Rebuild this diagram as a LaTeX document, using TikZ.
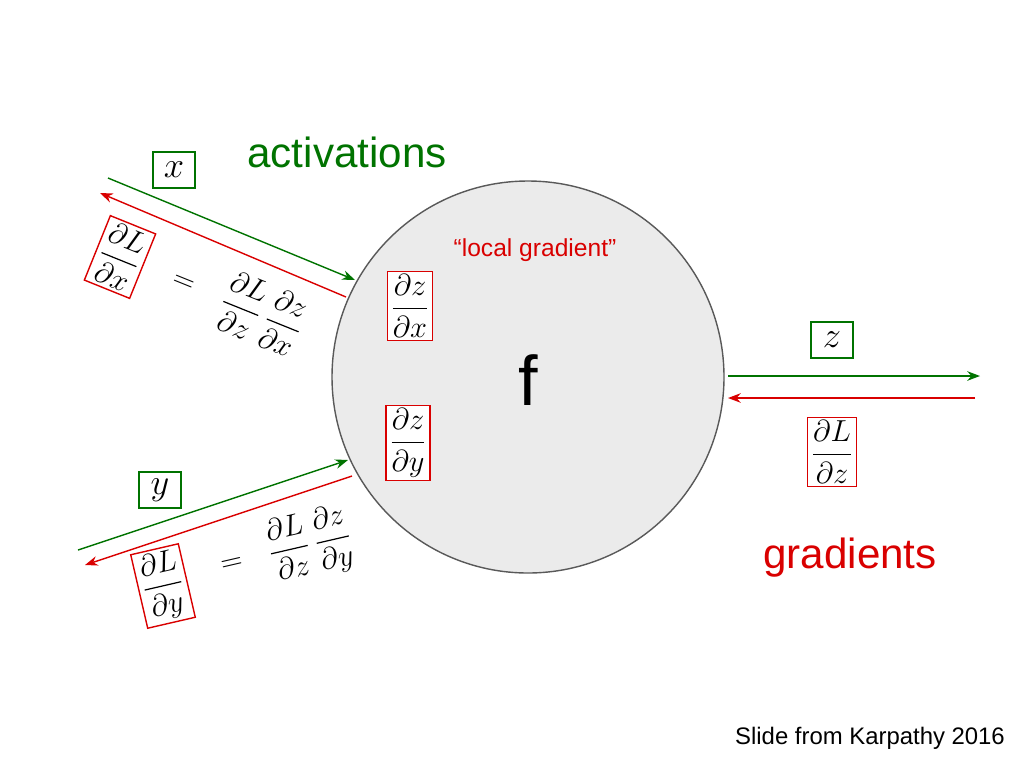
\documentclass[tikz,border=0pt]{standalone}
\usepackage{amsmath}
\usepackage{fontspec}
\setsansfont{Liberation Sans}
\usetikzlibrary{arrows.meta}

\begin{document}
\begin{tikzpicture}[
  x=0.02cm, y=-0.02cm,
  >={Stealth[scale=1.1]},
  act/.style = {draw=green!45!black, thick, ->},
  grad/.style = {draw=red!85!black, thick, ->},
  actbox/.style = {draw=green!45!black, thick, fill=white, minimum width=42*0.02cm, minimum height=36*0.02cm, inner sep=2pt, font=\fontsize{22}{24}\selectfont},
  gradbox/.style = {draw=red!85!black, thick, fill=white, inner sep=2pt, font=\fontsize{16}{18}\selectfont},
  eq/.style = {font=\fontsize{16}{18}\selectfont, inner sep=0pt}
]
  \useasboundingbox (0,0) rectangle (1024,768);

  % the gate
  \node[circle, draw=black!65, line width=0.8pt, fill=black!8, minimum size=392*0.02cm, inner sep=0] (gate) at (528,377) {};
  \node[font=\sffamily\fontsize{40}{44}\selectfont] (f) at (528,380) {f};
  \node[font=\sffamily\fontsize{14}{16}\selectfont, text=red!85!black] (local) at (535,250) {``local gradient''};
  \node[gradbox] (dzdx) at (410,306) {$\dfrac{\partial z}{\partial x}$};
  \node[gradbox] (dzdy) at (408,443) {$\dfrac{\partial z}{\partial y}$};

  % labels
  \node[font=\sffamily\fontsize{24}{28}\selectfont, text=green!45!black] (activ) at (347,152) {activations};
  \node[font=\sffamily\fontsize{24}{28}\selectfont, text=red!85!black] (grads) at (850,558) {gradients};
  \node[font=\sffamily\fontsize{13.6}{16}\selectfont] (credit) at (870,738) {Slide from Karpathy 2016};

  % output side
  \coordinate (zin) at (728,376);
  \coordinate (zout) at (980,376);
  \coordinate (gin) at (975,398);
  \coordinate (gout) at (728,398);
  \draw[act] (zin) -- (zout);
  \draw[grad] (gin) -- (gout);
  \node[actbox] (z) at (832,340) {$z$};
  \node[gradbox] (dLdz) at (832,452) {$\dfrac{\partial L}{\partial z}$};

  % x input
  \coordinate (xa) at (108,178);
  \coordinate (xb) at (355,280);
  \coordinate (xc) at (346,297);
  \coordinate (xd) at (100,193);
  \draw[act] (xa) -- (xb);
  \draw[grad] (xc) -- (xd);
  \node[actbox] (x) at (174,170) {$x$};
  \node[gradbox, rotate=-22] (dLdx) at (120,257) {$\dfrac{\partial L}{\partial x}$};
  \node[eq, rotate=-22] (eqx) at (183,284) {$=$};
  \node[eq, rotate=-22] (chainx) at (262,314) {$\dfrac{\partial L}{\partial z}\,\dfrac{\partial z}{\partial x}$};

  % y input
  \coordinate (ya) at (78,550);
  \coordinate (yb) at (348,460);
  \coordinate (yc) at (352,476);
  \coordinate (yd) at (85,565);
  \draw[act] (ya) -- (yb);
  \draw[grad] (yc) -- (yd);
  \node[actbox] (y) at (160,490) {$y$};
  \node[gradbox, rotate=13] (dLdy) at (163,586) {$\dfrac{\partial L}{\partial y}$};
  \node[eq, rotate=13] (eqy) at (232,565) {$=$};
  \node[eq, rotate=13] (chainy) at (310,545) {$\dfrac{\partial L}{\partial z}\,\dfrac{\partial z}{\partial y}$};
\end{tikzpicture}
\end{document}
